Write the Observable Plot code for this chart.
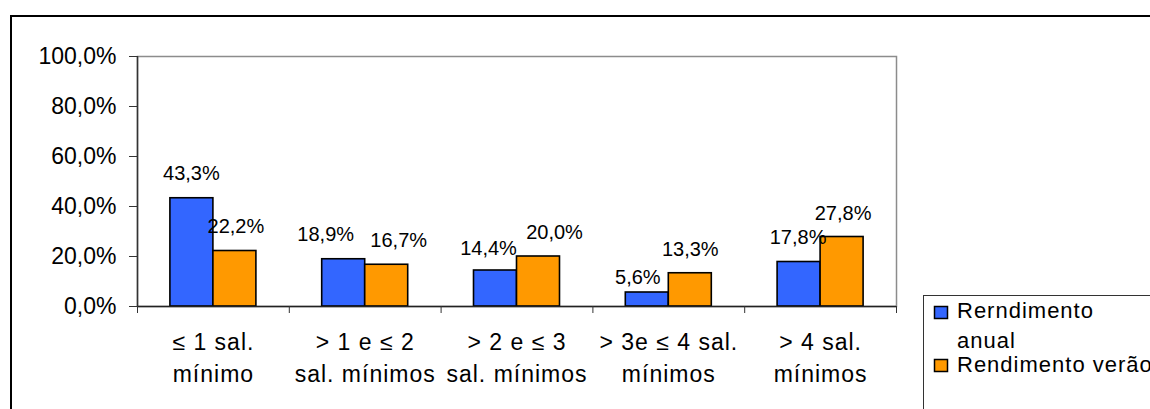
<!DOCTYPE html>
<html>
<head>
<meta charset="utf-8">
<script src="https://cdn.jsdelivr.net/npm/d3@7"></script>
<script src="https://cdn.jsdelivr.net/npm/@observablehq/plot@0.6"></script>
<style>
  html, body { margin: 0; padding: 0; background: white; }
  #wrap { position: relative; width: 1150px; height: 409px; overflow: hidden; background: white; }
  #wrap > svg { position: absolute; left: 0; top: 0; }
  #frame { position: absolute; left: 10px; top: 15px; width: 1300px; height: 600px; border: 2px solid #000; pointer-events: none; }
</style>
</head>
<body>
<div id="wrap"><div id="frame"></div></div>
<script>
const categories = ["≤ 1 sal.\nmínimo", "> 1 e ≤ 2\nsal. mínimos", "> 2 e ≤ 3\nsal. mínimos", "> 3e ≤ 4 sal.\nmínimos", "> 4 sal.\nmínimos"];
const anual = [43.3, 18.9, 14.4, 5.6, 17.8];
const verao = [22.2, 16.7, 20.0, 13.3, 27.8];
const seriesNames = ["Rerndimento anual", "Rendimento verão"];
const yTicks = [0, 20, 40, 60, 80, 100];

// styling (not data): colours, bar width, label nudges as placed in the original
const seriesColors = ["#3366FF", "#FF9900"];
const barW = 43 / 151.8; // bar width as a fraction of a category slot
const nudgeX = [[-0.5, -18, -7, -9.5, -1], [1, 12, 16, 0, 1]];
const nudgeY = [[-18, -18.5, -16, -8.7, -18.5], [-18.5, -17.3, -17.7, -17.7, -17.5]];

const fmt = v => v.toFixed(1).replace(".", ",") + "%";

const bars = categories.flatMap((c, i) => [
  {cat: c, i, s: 0, series: seriesNames[0], value: anual[i]},
  {cat: c, i, s: 1, series: seriesNames[1], value: verao[i]}
]);
const left = d => d.i + 0.5 + (d.s === 0 ? -barW : 0);
const right = d => d.i + 0.5 + (d.s === 0 ? 0 : barW);

const font = "'Liberation Sans', Arial, sans-serif";

const labelMarks = bars.map(d =>
  Plot.text([d], {
    x: e => (left(e) + right(e)) / 2, y: "value", text: e => fmt(e.value),
    lineAnchor: "bottom", dx: nudgeX[d.s][d.i], dy: nudgeY[d.s][d.i], fontSize: 20
  })
);

const chart = Plot.plot({
  width: 1150,
  height: 409,
  marginLeft: 137,
  marginRight: 254,
  marginTop: 56,
  marginBottom: 103,
  x: {domain: [0, categories.length], label: null},
  y: {domain: [0, 100], label: null},
  color: {domain: seriesNames, range: seriesColors},
  style: {fontFamily: font, background: "transparent", color: "#000", overflow: "visible"},
  marks: [
    Plot.frame({stroke: "#8c8c8c", strokeWidth: 1.5}),
    Plot.rectY(bars, {x1: left, x2: right, y: "value", fill: "series", stroke: "#000", strokeWidth: 1.6}),
    Plot.ruleX([0], {stroke: "#333", strokeWidth: 1.5}),
    Plot.ruleY([0], {stroke: "#222", strokeWidth: 1.5}),
    Plot.axisY({ticks: yTicks, tickSize: 8, tickPadding: 13, fontSize: 23, tickFormat: fmt, stroke: "#333", label: null, style: {letterSpacing: "0.5px"}}),
    Plot.axisX({ticks: d3.range(categories.length + 1), tickSize: 7, tickFormat: () => "", stroke: "#333", label: null}),
    Plot.text(categories, {x: (d, i) => i + 0.5, y: () => 0, text: d => d, lineAnchor: "top", dy: 21, fontSize: 23, lineHeight: 1.39, className: "cat"}),
    ...labelMarks
  ]
});

// wider letter spacing on category labels, as in the original rendering
d3.select(chart).selectAll("g.cat text").style("letter-spacing", "1px");

const wrap = document.getElementById("wrap");
wrap.insertBefore(chart, wrap.firstChild);

// legend
const leg = d3.select(wrap).append("svg")
  .attr("width", 1150).attr("height", 409)
  .style("font-family", font);
leg.append("rect").attr("x", 923.5).attr("y", 295.5).attr("width", 400).attr("height", 300)
  .attr("fill", "white").attr("stroke", "#333").attr("stroke-width", 1);
const legendRows = [
  {lines: ["Rerndimento", "anual"], color: seriesColors[0], sy: 306.5, ty: [318, 348]},
  {lines: ["Rendimento verão"], color: seriesColors[1], sy: 359.5, ty: [372]}
];
legendRows.forEach(r => {
  leg.append("rect").attr("x", 934.5).attr("y", r.sy).attr("width", 13).attr("height", 12)
    .attr("fill", r.color).attr("stroke", "#000").attr("stroke-width", 1.5);
  r.lines.forEach((t, k) => {
    leg.append("text").attr("x", 957).attr("y", r.ty[k]).attr("font-size", 22)
      .style("letter-spacing", "1px").text(t);
  });
});
</script>
</body>
</html>
